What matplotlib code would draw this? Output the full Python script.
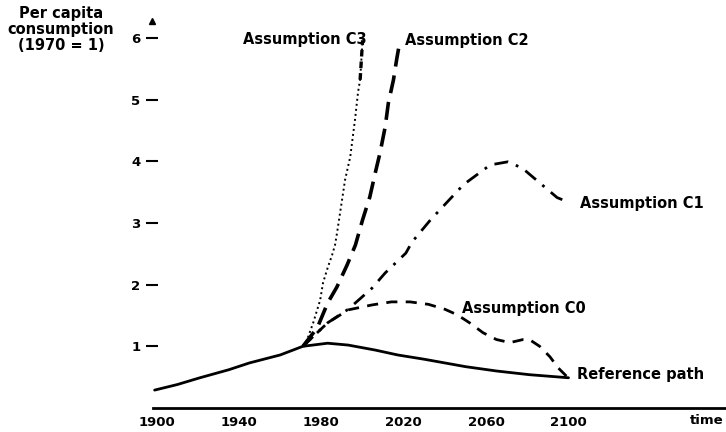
import matplotlib
matplotlib.use("Agg")
import matplotlib.pyplot as plt
import numpy as np

# ---- data ----
ref_years = [1899, 1910, 1921, 1935, 1945, 1960, 1971, 1983, 1993, 2006, 2017, 2030, 2040, 2050, 2065, 2081, 2100]
ref_vals  = [0.29, 0.38, 0.49, 0.62, 0.73, 0.86, 1.00, 1.05, 1.02, 0.94, 0.86, 0.79, 0.73, 0.67, 0.60, 0.54, 0.49]

c0_years = [1971, 1983, 1993, 2004.5, 2014, 2023, 2032, 2040, 2046, 2052, 2058.5, 2065, 2071.5, 2078, 2081, 2086, 2091, 2095, 2099.5]
c0_vals  = [1.00, 1.38, 1.59, 1.67, 1.72, 1.72, 1.68, 1.60, 1.51, 1.38, 1.22, 1.11, 1.06, 1.11, 1.11, 1.00, 0.83, 0.65, 0.50]

c1_years = [1971, 1983, 1993, 2004.5, 2011, 2016, 2021, 2024, 2033, 2049, 2062, 2070.5, 2077.5, 2086, 2094.5, 2100.5]
c1_vals  = [1.00, 1.38, 1.60, 1.94, 2.19, 2.35, 2.51, 2.69, 3.05, 3.62, 3.94, 3.99, 3.89, 3.65, 3.41, 3.33]

c2_years = [1971, 1978, 1983, 1987.5, 1992.5, 1996.5, 2000, 2003.5, 2006.5, 2008.5, 2011, 2012.5, 2015, 2016.5, 2017.5, 2019]
c2_vals  = [1.00, 1.30, 1.70, 1.96, 2.32, 2.64, 3.05, 3.42, 3.86, 4.14, 4.56, 4.94, 5.32, 5.64, 5.83, 5.96]

c3_years = [1971, 1973, 1976, 1979.4, 1980.8, 1983.2, 1985.2, 1986.6, 1987.6, 1991.5, 1994, 1996.3, 1997.8, 1998.8, 1999.7, 2000]
c3_vals  = [1.00, 1.10, 1.38, 1.75, 2.03, 2.29, 2.48, 2.64, 2.84, 3.70, 4.07, 4.67, 5.12, 5.32, 5.80, 5.96]

x_ticks = [1900, 1940, 1980, 2020, 2060, 2100]
y_ticks = [1, 2, 3, 4, 5, 6]

labels = ["Assumption C3", "Assumption C2", "Assumption C1", "Assumption C0", "Reference path"]

# ---- figure ----
fig = plt.figure(figsize=(7.26, 4.32), dpi=100)
ax = fig.add_axes([0, 0, 1, 1])
ax.set_xlim(1823.9, 2176.5)
ax.set_ylim(-0.389, 6.613)
ax.patch.set_alpha(0)

k = 'black'
ax.plot(ref_years, ref_vals, color=k, lw=2.0, solid_capstyle='round')
ax.plot(c0_years, c0_vals, color=k, lw=2.0, dashes=(4, 3))
ax.plot(c1_years, c1_vals, color=k, lw=2.0, dashes=(5, 3, 1, 3))
ax.plot(c2_years, c2_vals, color=k, lw=2.6, dashes=(5, 2.5))
ax.plot(c3_years, c3_vals, color=k, lw=1.4, dashes=(1, 1.6))
top = [i for i, v in enumerate(c3_vals) if v >= 5.3]
ax.plot([c3_years[i] for i in top], [c3_vals[i] for i in top], color=k, lw=2.4, dashes=(2, 1.5))

fs = 10.5
ax.text(2002.2, 5.98, labels[0], ha='right', va='center', fontsize=fs, fontweight='bold')
ax.text(2020.8, 5.96, labels[1], ha='left', va='center', fontsize=fs, fontweight='bold')
ax.text(2105.6, 3.32, labels[2], ha='left', va='center', fontsize=fs, fontweight='bold')
ax.text(2048.3, 1.62, labels[3], ha='left', va='center', fontsize=fs, fontweight='bold')
ax.text(2104.2, 0.54, labels[4], ha='left', va='center', fontsize=fs, fontweight='bold')

# axes styling
for s in ['top', 'right']:
    ax.spines[s].set_visible(False)
ax.spines['bottom'].set_position(('data', 0))
ax.spines['bottom'].set_bounds(1898, 2176.5)
ax.spines['bottom'].set_linewidth(2.0)
ax.spines['left'].set_position(('data', 1897.5))
ax.spines['left'].set_visible(False)

ax.set_xticks(x_ticks)
ax.set_xticklabels([str(t) for t in x_ticks], fontsize=9.5, fontweight='bold')
ax.tick_params(axis='x', length=0, pad=6)
ax.set_yticks(y_ticks)
ax.set_yticklabels([str(t) for t in y_ticks], fontsize=9.5, fontweight='bold')
ax.tick_params(axis='y', direction='inout', length=8, width=1.5, pad=4)

ax.text(2167, -0.2, "time", ha='center', va='center', fontsize=9.5, fontweight='bold')
ax.plot([1897.5], [6.27], marker='^', color=k, markersize=5)
ax.text(1853.5, 6.13, "Per capita\nconsumption\n(1970 = 1)", ha='center', va='center',
        fontsize=10.5, fontweight='bold', linespacing=1.1)

fig.savefig("out.png", dpi=100)
